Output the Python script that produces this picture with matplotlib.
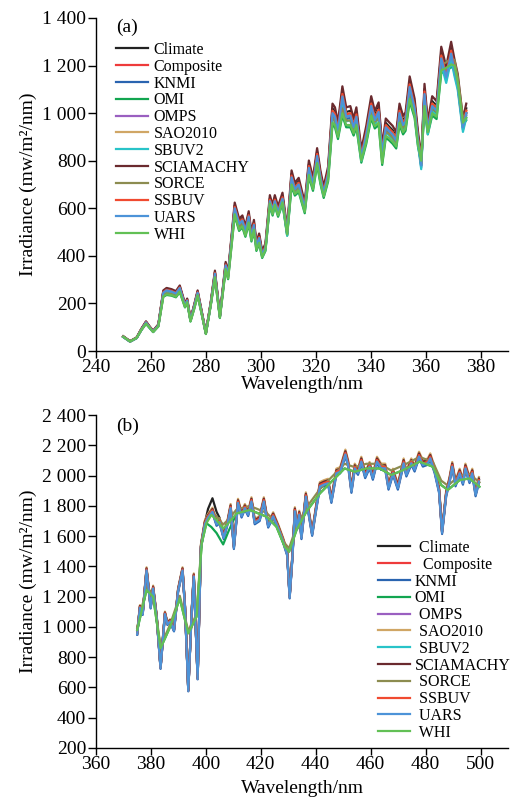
import matplotlib
matplotlib.use("Agg")
import matplotlib.pyplot as plt
import numpy as np

plt.rcParams['font.family'] = ['Liberation Serif', 'DejaVu Serif']

# ---------------- data ----------------
series_names = ["Climate", "Composite", "KNMI", "OMI", "OMPS", "SAO2010",
                "SBUV2", "SCIAMACHY", "SORCE", "SSBUV", "UARS", "WHI"]
series_colors = ["#222222", "#ee3b3b", "#2a64b0", "#12a550", "#9a5fc0", "#d0a665",
                 "#28c3c8", "#6a2a2e", "#8c8c50", "#f04a30", "#4c93d8", "#62c055"]
legend_b_labels = [" Climate", "  Composite", "KNMI", "OMI", " OMPS", " SAO2010",
                   " SBUV2", "SCIAMACHY", " SORCE", " SSBUV", " UARS", " WHI"]

# panel (a): 250-375 nm
a_wl = [249.9, 252.4, 254.8, 256.5, 258.2, 259.5, 260.8, 262.7, 264.5, 265.7,
        267.5, 269.1, 270.5, 272.4, 273.2, 274.4, 275.8, 277.0, 278.5, 280.0,
        281.8, 283.3, 285.1, 287.2, 288.1, 290.5, 292.1, 293.3, 294.4, 295.6,
        296.6, 297.5, 298.4, 299.4, 300.5, 301.7, 303.3, 304.3, 305.1, 306.3,
        307.9, 309.6, 311.2, 312.4, 313.8, 316.0, 317.5, 319.0, 320.5, 321.7,
        322.9, 324.5, 326.1, 327.0, 328.1, 329.7, 331.1, 332.6, 333.8, 334.8,
        336.6, 338.4, 340.2, 341.5, 342.9, 344.2, 345.5, 346.7, 348.0, 349.3,
        350.5, 351.8, 352.7, 354.2, 356.0, 357.2, 358.4, 359.6, 360.8, 362.4,
        364.0, 365.7, 367.5, 369.3, 370.5, 371.7, 373.6, 374.8]
a_detail = [60, 40, 55, 90, 120, 100, 82, 108, 245, 255,
            250, 242, 265, 192, 212, 130, 190, 245, 160, 75,
            200, 325, 145, 360, 320, 600, 535, 548, 505, 565,
            478, 530, 440, 475, 405, 435, 630, 590, 630, 585,
            640, 495, 730, 680, 700, 600, 770, 700, 820, 730,
            665, 745, 1000, 985, 925, 1070, 985, 990, 940, 985,
            815, 910, 1030, 970, 1005, 830, 940, 925, 910, 885,
            1000, 950, 965, 1110, 1020, 890, 780, 1080, 930, 1030,
            1010, 1230, 1150, 1250, 1180, 1120, 940, 1000]
a_smooth = [60, 40, 55, 88, 115, 98, 80, 104, 230, 238,
            235, 228, 250, 185, 205, 125, 180, 235, 155, 72,
            195, 310, 140, 345, 305, 575, 510, 525, 485, 540,
            465, 510, 425, 455, 395, 425, 620, 575, 615, 570,
            625, 490, 700, 660, 675, 585, 740, 680, 790, 710,
            650, 720, 960, 950, 900, 1000, 950, 950, 915, 950,
            800, 880, 990, 945, 960, 790, 905, 895, 880, 860,
            960, 920, 935, 1060, 990, 870, 800, 1030, 920, 1000,
            985, 1180, 1190, 1205, 1200, 1130, 960, 980]
a_base = ["detail", "detail", "detail", "smooth", "detail", "detail",
          "detail", "detail", "smooth", "detail", "detail", "smooth"]
a_scale = [1.02, 1.00, 0.99, 0.99, 1.00, 1.01, 0.98, 1.04, 1.02, 1.01, 1.00, 1.00]

# panel (b): 375-500 nm
b_wl = [375.0, 376.0, 377.0, 378.4, 379.9, 380.8, 382.1, 383.5, 385.1, 386.0,
        387.0, 388.4, 389.9, 391.5, 392.4, 393.6, 394.8, 395.6, 397.0, 398.2,
        399.6, 400.8, 402.4, 403.9, 405.0, 406.5, 408.0, 409.0, 410.2, 411.7,
        413.0, 414.2, 415.4, 416.6, 417.8, 419.6, 421.1, 422.7, 424.5, 426.3,
        428.1, 429.6, 430.5, 431.5, 432.4, 433.2, 434.0, 434.8, 436.4, 437.3,
        438.7, 440.2, 441.5, 443.0, 444.5, 445.7, 447.5, 448.9, 450.8, 451.8,
        453.0, 454.2, 455.4, 456.6, 458.0, 459.6, 460.8, 462.3, 463.8, 465.3,
        466.5, 468.1, 469.9, 472.0, 473.0, 474.8, 476.0, 477.6, 479.0, 480.8,
        481.7, 483.3, 484.9, 486.0, 487.5, 488.7, 489.7, 490.9, 492.4, 493.6,
        494.5, 496.0, 497.0, 498.2, 499.4]
b_detail = [958, 1133, 1090, 1380, 1133, 1260, 1067, 730, 1090, 1023,
            1040, 980, 1244, 1380, 1133, 580, 1090, 1340, 660, 1530,
            1685, 1730, 1770, 1685, 1700, 1596, 1700, 1794, 1530, 1828,
            1740, 1794, 1750, 1838, 1695, 1717, 1838, 1673, 1740, 1662,
            1574, 1486, 1200, 1464, 1773, 1662, 1750, 1596, 1870, 1773,
            1618, 1794, 1937, 1950, 1959, 1838, 2025, 2035, 2150, 2080,
            1905, 2058, 2025, 2103, 2003, 2069, 1992, 2103, 2058, 2058,
            1926, 2025, 1926, 2092, 2014, 2092, 2047, 2136, 2080, 2092,
            2125, 2036, 1905, 1630, 1882, 1970, 2069, 1948, 2025, 1959,
            2058, 1970, 2025, 1882, 1970]
b_smooth_wl = [375.0, 378.4, 380.8, 383.5, 387.0, 390.5, 393.6, 396.6, 398.5, 400.2,
               402.0, 403.9, 406.3, 408.2, 411.2, 416.0, 422.1, 425.7, 428.7, 430.3,
               433.0, 436.6, 441.5, 446.3, 450.5, 454.2, 458.4, 463.3, 467.5, 471.8,
               477.8, 482.7, 485.7, 488.1, 492.4, 496.0, 499.6]
b_smooth = [980, 1244, 1200, 859, 1001, 1188, 958, 1067, 1552, 1685,
            1740, 1706, 1651, 1685, 1750, 1773, 1728, 1662, 1530, 1497,
            1640, 1762, 1882, 1970, 2047, 2025, 2047, 2047, 2003, 2036,
            2092, 2058, 1937, 1905, 1970, 1981, 1926]
# local departures
b_climate_patch = {400.8: 1780, 402.4: 1850, 403.9: 1760, 405.0: 1720}
b_omi_patch = {402.0: 1660, 403.9: 1620, 406.3: 1545, 408.2: 1630}
b_base = ["detail", "detail", "detail", "smooth", "detail", "detail",
          "detail", "detail", "smooth", "detail", "detail", "smooth"]
b_scale = [1.00, 0.995, 0.99, 1.00, 1.00, 1.01, 1.00, 1.005, 1.015, 1.00, 0.995, 1.00]

a_xticks = [240, 260, 280, 300, 320, 340, 360, 380]
a_yticks = [0, 200, 400, 600, 800, 1000, 1200, 1400]
a_yticklabels = ["0", "200", "400", "600", "800", "1 000", "1 200", "1 400"]
b_xticks = [360, 380, 400, 420, 440, 460, 480, 500]
b_yticks = [200, 400, 600, 800, 1000, 1200, 1400, 1600, 1800, 2000, 2200, 2400]
b_yticklabels = ["200", "400", "600", "800", "1 000", "1 200", "1 400", "1 600",
                 "1 800", "2 000", "2 200", "2 400"]

# ---------------- figure ----------------
W, H = 517, 798
fig = plt.figure(figsize=(W / 100, H / 100), dpi=100)
fs = 14

def px_axes(x0, x1, ytop, ybot):
    return fig.add_axes([x0 / W, 1 - ybot / H, (x1 - x0) / W, (ybot - ytop) / H])

axa = px_axes(96, 508, 18, 351)
axb = px_axes(96, 508, 415, 748)

def style(ax, xt, yt, ytl, xlim, ylim, xlabelpad):
    ax.set_xlim(*xlim)
    ax.set_ylim(*ylim)
    for s in ("top", "right"):
        ax.spines[s].set_visible(False)
    for s in ("left", "bottom"):
        ax.spines[s].set_linewidth(1.0)
    ax.set_xticks(xt)
    ax.set_yticks(yt)
    ax.set_yticklabels(ytl)
    ax.tick_params(axis="both", direction="out", labelsize=fs, width=1.0)
    ax.tick_params(axis="y", length=6, pad=1)
    ax.tick_params(axis="x", length=5, pad=1)
    ax.set_xlabel("Wavelength/nm", fontsize=fs, labelpad=xlabelpad)
    ax.set_ylabel("Irradiance (mw/m²/nm)", fontsize=fs, labelpad=4)

# panel (a)
for i, name in enumerate(series_names):
    base = a_detail if a_base[i] == "detail" else a_smooth
    vals = np.array(base, dtype=float) * a_scale[i]
    axa.plot(a_wl, vals, color=series_colors[i], lw=1.6, label=name,
             solid_joinstyle="round")
style(axa, a_xticks, a_yticks, a_yticklabels, (240, 390), (0, 1400), 0)
fig.text(116 / W, 1 - 19 / H, "(a)", fontsize=fs, va="top")
axa.legend(loc="upper left", bbox_to_anchor=(116 / W, 1 - 42 / H),
           bbox_transform=fig.transFigure, frameon=False, fontsize=11.5,
           handlelength=2.0, handletextpad=0.35, labelspacing=0.05,
           borderpad=0, borderaxespad=0)

# panel (b)
for i, name in enumerate(series_names):
    if b_base[i] == "detail":
        wl = b_wl
        vals = np.array(b_detail, dtype=float) * b_scale[i]
        if name == "Climate":
            vals = np.array([b_climate_patch.get(w, v) for w, v in zip(wl, vals)])
    else:
        wl = b_smooth_wl
        vals = np.array(b_smooth, dtype=float) * b_scale[i]
        if name == "OMI":
            vals = np.array([b_omi_patch.get(w, v) for w, v in zip(wl, vals)])
    axb.plot(wl, vals, color=series_colors[i], lw=1.6, label=legend_b_labels[i],
             solid_joinstyle="round")
style(axb, b_xticks, b_yticks, b_yticklabels, (360, 510), (200, 2400), 5)
fig.text(116 / W, 1 - 418 / H, "(b)", fontsize=fs, va="top")
axb.legend(loc="upper left", bbox_to_anchor=(378 / W, 1 - 540 / H),
           bbox_transform=fig.transFigure, frameon=False, fontsize=11.5,
           handlelength=2.0, handletextpad=0.3, labelspacing=0.05,
           borderpad=0, borderaxespad=0)

fig.savefig("out.png", dpi=100, facecolor="white")
